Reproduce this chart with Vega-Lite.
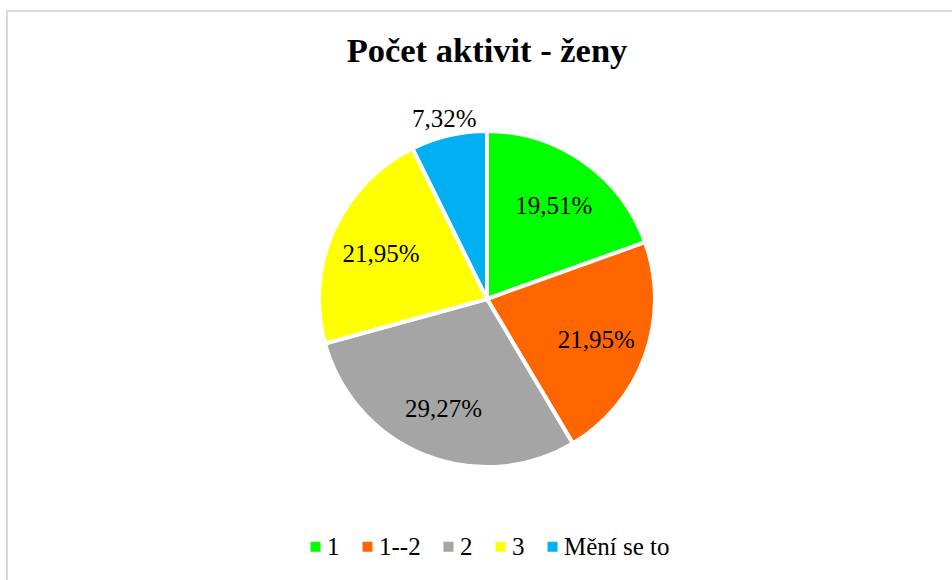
{
  "$schema": "https://vega.github.io/schema/vega-lite/v6.json",
  "width": 960,
  "height": 576,
  "autosize": {"type": "none"},
  "padding": {"left": 7, "top": 11, "right": 0, "bottom": 0},
  "background": "white",
  "view": {"stroke": "#D9D9D9", "strokeWidth": 2},
  "config": {
    "font": "Liberation Serif"
  },
  "title": {
    "text": "Počet aktivit - ženy",
    "font": "Liberation Serif",
    "fontSize": 34.5,
    "fontWeight": "bold",
    "color": "#000000",
    "anchor": "middle",
    "frame": "group",
    "baseline": "alphabetic",
    "offset": -85
  },
  "data": {
    "values": [
      {"category": "1", "count": 8, "order": 1, "label": "19,51%"},
      {"category": "1--2", "count": 9, "order": 2, "label": "21,95%"},
      {"category": "2", "count": 12, "order": 3, "label": "29,27%"},
      {"category": "3", "count": 9, "order": 4, "label": "21,95%"},
      {"category": "Mění se to", "count": 3, "order": 5, "label": "7,32%"}
    ]
  },
  "encoding": {
    "theta": {"field": "count", "type": "quantitative", "stack": true},
    "order": {"field": "order", "type": "quantitative"},
    "color": {
      "field": "category",
      "type": "nominal",
      "scale": {
        "domain": ["1", "1--2", "2", "3", "Mění se to"],
        "range": ["#00FF00", "#FF6600", "#A5A5A5", "#FFFF00", "#00B0F0"]
      },
      "legend": {
        "orient": "none",
        "legendX": 296,
        "legendY": 523,
        "padding": 0,
        "direction": "horizontal",
        "title": null,
        "symbolType": "square",
        "symbolSize": 100,
        "symbolStrokeWidth": 0,
        "labelFont": "Liberation Serif",
        "labelFontSize": 25,
        "labelColor": "#000000",
        "labelOffset": -1,
        "columnPadding": 15,
        "labelLimit": 400
      }
    }
  },
  "layer": [
    {
      "mark": {"type": "arc", "outerRadius": 168, "stroke": "white", "strokeWidth": 4}
    },
    {
      "mark": {"type": "text", "radius": 116, "font": "Liberation Serif", "fontSize": 25, "baseline": "middle", "align": "center", "dy": 2},
      "encoding": {
        "color": {"value": "#000000"},
        "text": {"condition": {"test": "datum.category == 'Mění se to'", "value": ""}, "field": "label", "type": "nominal"}
      }
    },
    {
      "mark": {"type": "text", "radius": 187, "font": "Liberation Serif", "fontSize": 25, "baseline": "middle", "align": "center", "dy": 2},
      "encoding": {
        "color": {"value": "#000000"},
        "text": {"condition": {"test": "datum.category != 'Mění se to'", "value": ""}, "field": "label", "type": "nominal"}
      }
    }
  ]
}
